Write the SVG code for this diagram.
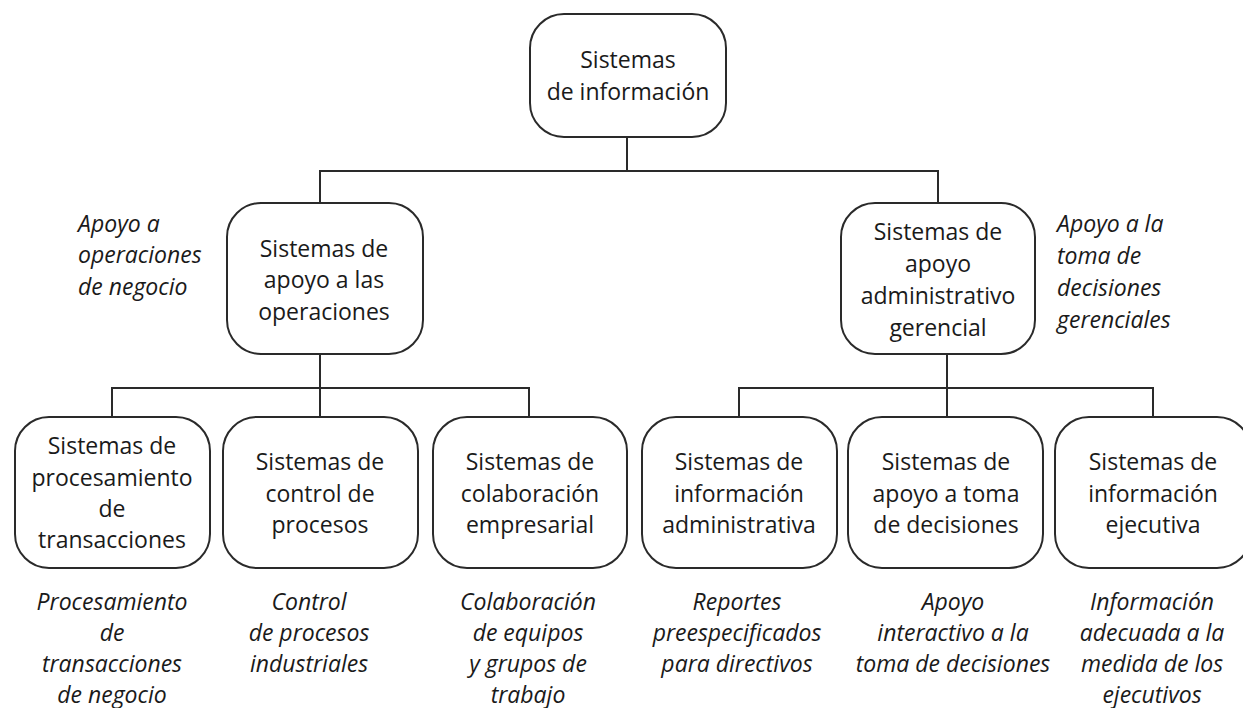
<svg xmlns="http://www.w3.org/2000/svg" width="1243" height="708" viewBox="0 0 1243 708">
<style>
.box{fill:#fff;stroke:#2a2a2a;stroke-width:2}
.t{font-family:"Open Sans","Liberation Sans",sans-serif;font-size:23px;fill:#1a1a1a;text-anchor:middle}
.i{font-family:"Open Sans","Liberation Sans",sans-serif;font-size:23px;font-style:italic;fill:#1a1a1a}
.c{text-anchor:middle}
.ln{fill:none;stroke:#2a2a2a;stroke-width:2}
</style>
<rect width="1243" height="708" fill="#fff"/>
<g id="connectors">
<path class="ln" d="M627,137 V171 M320,203 V171 H938 V203"/>
<path class="ln" d="M320,354 V388 M112,417 V388 H529 V417 M320,388 V417"/>
<path class="ln" d="M947,354 V388 M739,417 V388 H1153 V417 M947,388 V417"/>
</g>
<g id="root">
<rect class="box" x="530" y="14" width="196" height="123" rx="34"/>
<text class="t" x="628" y="68">Sistemas</text>
<text class="t" x="628" y="100">de información</text>
</g>
<g id="operaciones">
<rect class="box" x="227" y="203" width="196" height="151" rx="34"/>
<text class="t" x="324" y="257">Sistemas de</text>
<text class="t" x="324" y="288">apoyo a las</text>
<text class="t" x="324" y="320">operaciones</text>
</g>
<g id="gerencial">
<rect class="box" x="841" y="203" width="194" height="151" rx="34"/>
<text class="t" x="938" y="240">Sistemas de</text>
<text class="t" x="938" y="272">apoyo</text>
<text class="t" x="938" y="304">administrativo</text>
<text class="t" x="938" y="336">gerencial</text>
</g>
<g id="label-operaciones">
<text class="i" x="78" y="232">Apoyo a</text>
<text class="i" x="78" y="263">operaciones</text>
<text class="i" x="78" y="295">de negocio</text>
</g>
<g id="label-gerencial">
<text class="i" x="1057" y="232">Apoyo a la</text>
<text class="i" x="1057" y="264">toma de</text>
<text class="i" x="1057" y="296">decisiones</text>
<text class="i" x="1057" y="328">gerenciales</text>
</g>
<g id="tps">
<rect class="box" x="15" y="417" width="195" height="151" rx="34"/>
<text class="t" x="112" y="454">Sistemas de</text>
<text class="t" x="112" y="486">procesamiento</text>
<text class="t" x="112" y="517">de</text>
<text class="t" x="112" y="548">transacciones</text>
<text class="i c" x="112" y="610">Procesamiento</text>
<text class="i c" x="112" y="641">de</text>
<text class="i c" x="112" y="672">transacciones</text>
<text class="i c" x="112" y="703">de negocio</text>
</g>
<g id="pcs">
<rect class="box" x="223" y="417" width="195" height="151" rx="34"/>
<text class="t" x="320" y="470">Sistemas de</text>
<text class="t" x="320" y="502">control de</text>
<text class="t" x="320" y="533">procesos</text>
<text class="i c" x="309" y="610">Control</text>
<text class="i c" x="309" y="641">de procesos</text>
<text class="i c" x="309" y="672">industriales</text>
</g>
<g id="ecs">
<rect class="box" x="433" y="417" width="194" height="151" rx="34"/>
<text class="t" x="530" y="470">Sistemas de</text>
<text class="t" x="530" y="502">colaboración</text>
<text class="t" x="530" y="533">empresarial</text>
<text class="i c" x="528" y="610">Colaboración</text>
<text class="i c" x="528" y="641">de equipos</text>
<text class="i c" x="528" y="672">y grupos de</text>
<text class="i c" x="528" y="703">trabajo</text>
</g>
<g id="mis">
<rect class="box" x="642" y="417" width="195" height="151" rx="34"/>
<text class="t" x="739" y="470">Sistemas de</text>
<text class="t" x="739" y="502">información</text>
<text class="t" x="739" y="533">administrativa</text>
<text class="i c" x="737" y="610">Reportes</text>
<text class="i c" x="737" y="641">preespecificados</text>
<text class="i c" x="737" y="672">para directivos</text>
</g>
<g id="dss">
<rect class="box" x="848" y="417" width="195" height="151" rx="34"/>
<text class="t" x="946" y="470">Sistemas de</text>
<text class="t" x="946" y="502">apoyo a toma</text>
<text class="t" x="946" y="533">de decisiones</text>
<text class="i c" x="953" y="610">Apoyo</text>
<text class="i c" x="953" y="641">interactivo a la</text>
<text class="i c" x="953" y="672">toma de decisiones</text>
</g>
<g id="eis">
<rect class="box" x="1055" y="417" width="196" height="151" rx="34"/>
<text class="t" x="1153" y="470">Sistemas de</text>
<text class="t" x="1153" y="502">información</text>
<text class="t" x="1153" y="533">ejecutiva</text>
<text class="i c" x="1152" y="610">Información</text>
<text class="i c" x="1152" y="641">adecuada a la</text>
<text class="i c" x="1152" y="672">medida de los</text>
<text class="i c" x="1152" y="703">ejecutivos</text>
</g>
</svg>
